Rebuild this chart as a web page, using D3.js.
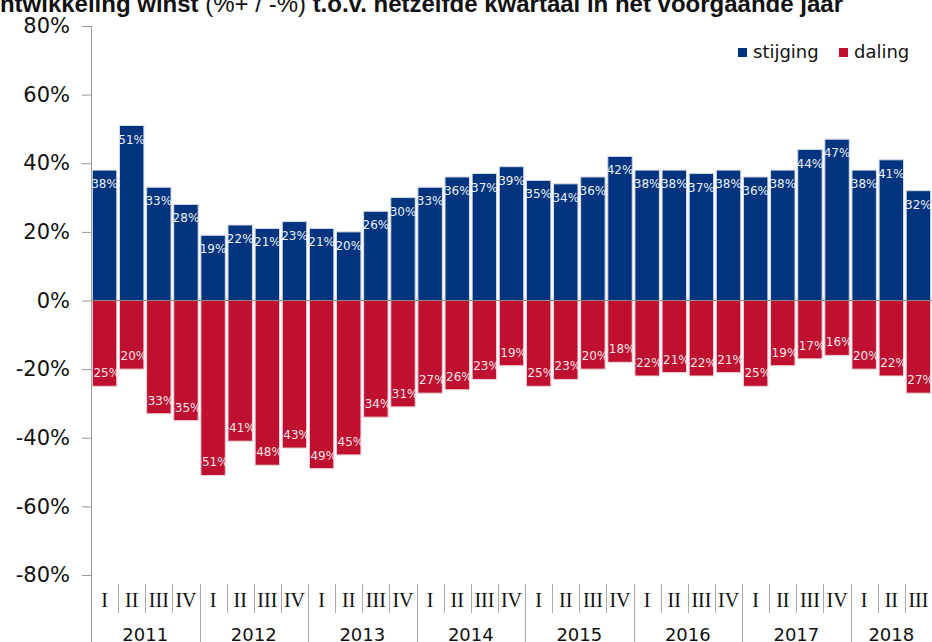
<!DOCTYPE html>
<html>
<head>
<meta charset="utf-8">
<script src="https://cdn.jsdelivr.net/npm/d3@7"></script>
<style>
  body { margin: 0; background: #fff; }
  svg { display: block; font-family: "DejaVu Sans", Verdana, sans-serif; }
</style>
</head>
<body>
<div id="chart"></div>
<script>
// quarters 2011 I .. 2018 III
var years = ["2011", "2012", "2013", "2014", "2015", "2016", "2017", "2018"];
var quarterNames = ["I", "II", "III", "IV"];
var stijging = [38, 51, 33, 28, 19, 22, 21, 23, 21, 20, 26, 30, 33, 36, 37, 39,
                35, 34, 36, 42, 38, 38, 37, 38, 36, 38, 44, 47, 38, 41, 32];
var daling = [-25, -20, -33, -35, -51, -41, -48, -43, -49, -45, -34, -31, -27, -26, -23, -19,
              -25, -23, -20, -18, -22, -21, -22, -21, -25, -19, -17, -16, -20, -22, -27];
var yTicks = [-80, -60, -40, -20, 0, 20, 40, 60, 80];

var svgWidth = 932;
var svgHeight = 642;

// build quarter keys
var quarters = [];
years.forEach(function(y) {
  quarterNames.forEach(function(q) {
    if (quarters.length < stijging.length) quarters.push({ year: y, q: q, key: y + "-" + q });
  });
});

var svg = d3.select("#chart")
  .append("svg")
  .attr("width", svgWidth)
  .attr("height", svgHeight);

var x = d3.scaleBand()
  .domain(quarters.map(d => d.key))
  .range([91, 932])
  .paddingInner(0.1)
  .paddingOuter(0.05);

var y = d3.scaleLinear()
  .domain([-80, 80])
  .range([575, 26]);

var blue = "#00347e";
var red = "#c0102f";

// title (runs off the top / left edge like the source image)
var title = svg.append("text")
  .attr("x", 843)
  .attr("y", 12)
  .attr("text-anchor", "end")
  .style("font-family", "'Liberation Sans', Arial, sans-serif")
  .style("font-size", "24px")
  .style("fill", "#111");
title.append("tspan").style("font-weight", "bold").text("Ontwikkeling winst ");
title.append("tspan").style("font-weight", "normal").text("(%+ / -%) ");
title.append("tspan").style("font-weight", "bold").text("t.o.v. hetzelfde kwartaal in het voorgaande jaar");

// y axis
var leftAxis = d3.axisLeft(y)
  .tickValues(yTicks)
  .tickSize(9)
  .tickPadding(12)
  .tickFormat(d => d + "%");

var yAxis = svg.append("g")
  .attr("transform", "translate(91,0)")
  .call(leftAxis);
yAxis.select(".domain").remove();
yAxis.selectAll(".tick line").attr("stroke", "#999");
yAxis.selectAll(".tick text")
  .style("font-family", "'DejaVu Sans', Verdana, sans-serif")
  .style("font-size", "21px")
  .style("fill", "#111");

// y axis line running down through the category area
svg.append("line")
  .attr("x1", 91.5).attr("x2", 91.5)
  .attr("y1", 26).attr("y2", svgHeight)
  .attr("stroke", "#999");

// bars
var rows = quarters.map(function(d, i) {
  return { key: d.key, up: stijging[i], down: daling[i] };
});

svg.selectAll(".up")
  .data(rows)
  .enter()
  .append("rect")
  .attr("class", "up")
  .attr("x", d => x(d.key))
  .attr("y", d => y(d.up))
  .attr("width", x.bandwidth())
  .attr("height", d => y(0) - y(d.up))
  .attr("fill", blue)
  .attr("stroke", "#d4d9e6")
  .attr("stroke-width", 1);

svg.selectAll(".down")
  .data(rows)
  .enter()
  .append("rect")
  .attr("class", "down")
  .attr("x", d => x(d.key))
  .attr("y", y(0))
  .attr("width", x.bandwidth())
  .attr("height", d => y(d.down) - y(0))
  .attr("fill", red)
  .attr("stroke", "#ecd0d6")
  .attr("stroke-width", 1);

// zero line
svg.append("line")
  .attr("x1", 91).attr("x2", 932)
  .attr("y1", y(0)).attr("y2", y(0))
  .attr("stroke", "#8a8a8a")
  .attr("stroke-width", 1);

// value labels
svg.selectAll(".upLabel")
  .data(rows)
  .enter()
  .append("text")
  .attr("x", d => x(d.key) + x.bandwidth() / 2)
  .attr("y", d => y(d.up) + 18)
  .attr("text-anchor", "middle")
  .style("font-size", "12px")
  .style("fill", "#eef0f6")
  .text(d => d.up + "%");

svg.selectAll(".downLabel")
  .data(rows)
  .enter()
  .append("text")
  .attr("x", d => x(d.key) + x.bandwidth() / 2)
  .attr("y", d => y(d.down) - 9)
  .attr("text-anchor", "middle")
  .style("font-size", "12px")
  .style("fill", "#f6e6ea")
  .text(d => d.down + "%");

// category axis: quarter labels + separators
var catGroup = svg.append("g");
quarters.forEach(function(d, i) {
  var left = x(d.key) - x.step() * x.paddingInner() / 2;
  var cx = x(d.key) + x.bandwidth() / 2;
  catGroup.append("text")
    .attr("x", cx)
    .attr("y", 607)
    .attr("text-anchor", "middle")
    .style("font-family", "'Liberation Serif', 'Times New Roman', serif")
    .style("font-size", "20px")
    .style("fill", "#111")
    .text(d.q);
  if (i > 0) {
    var yearStart = d.q === "I";
    catGroup.append("line")
      .attr("x1", Math.round(left) + 0.5).attr("x2", Math.round(left) + 0.5)
      .attr("y1", 584)
      .attr("y2", yearStart ? svgHeight : 613)
      .attr("stroke", "#aaa");
  }
});

// year labels
years.forEach(function(yr) {
  var qs = quarters.filter(d => d.year === yr);
  var x0 = x(qs[0].key);
  var x1 = x(qs[qs.length - 1].key) + x.bandwidth();
  catGroup.append("text")
    .attr("x", (x0 + x1) / 2)
    .attr("y", 641)
    .attr("text-anchor", "middle")
    .style("font-size", "18px")
    .style("fill", "#111")
    .text(yr);
});

// legend
var legend = svg.append("g");
var legendItems = [
  { label: "stijging", color: blue, x: 738 },
  { label: "daling", color: red, x: 839 }
];
legendItems.forEach(function(item) {
  legend.append("rect")
    .attr("x", item.x)
    .attr("y", 48)
    .attr("width", 9)
    .attr("height", 9)
    .attr("fill", item.color);
  legend.append("text")
    .attr("x", item.x + 15)
    .attr("y", 58)
    .style("font-size", "18px")
    .style("fill", "#111")
    .text(item.label);
});
</script>
</body>
</html>
